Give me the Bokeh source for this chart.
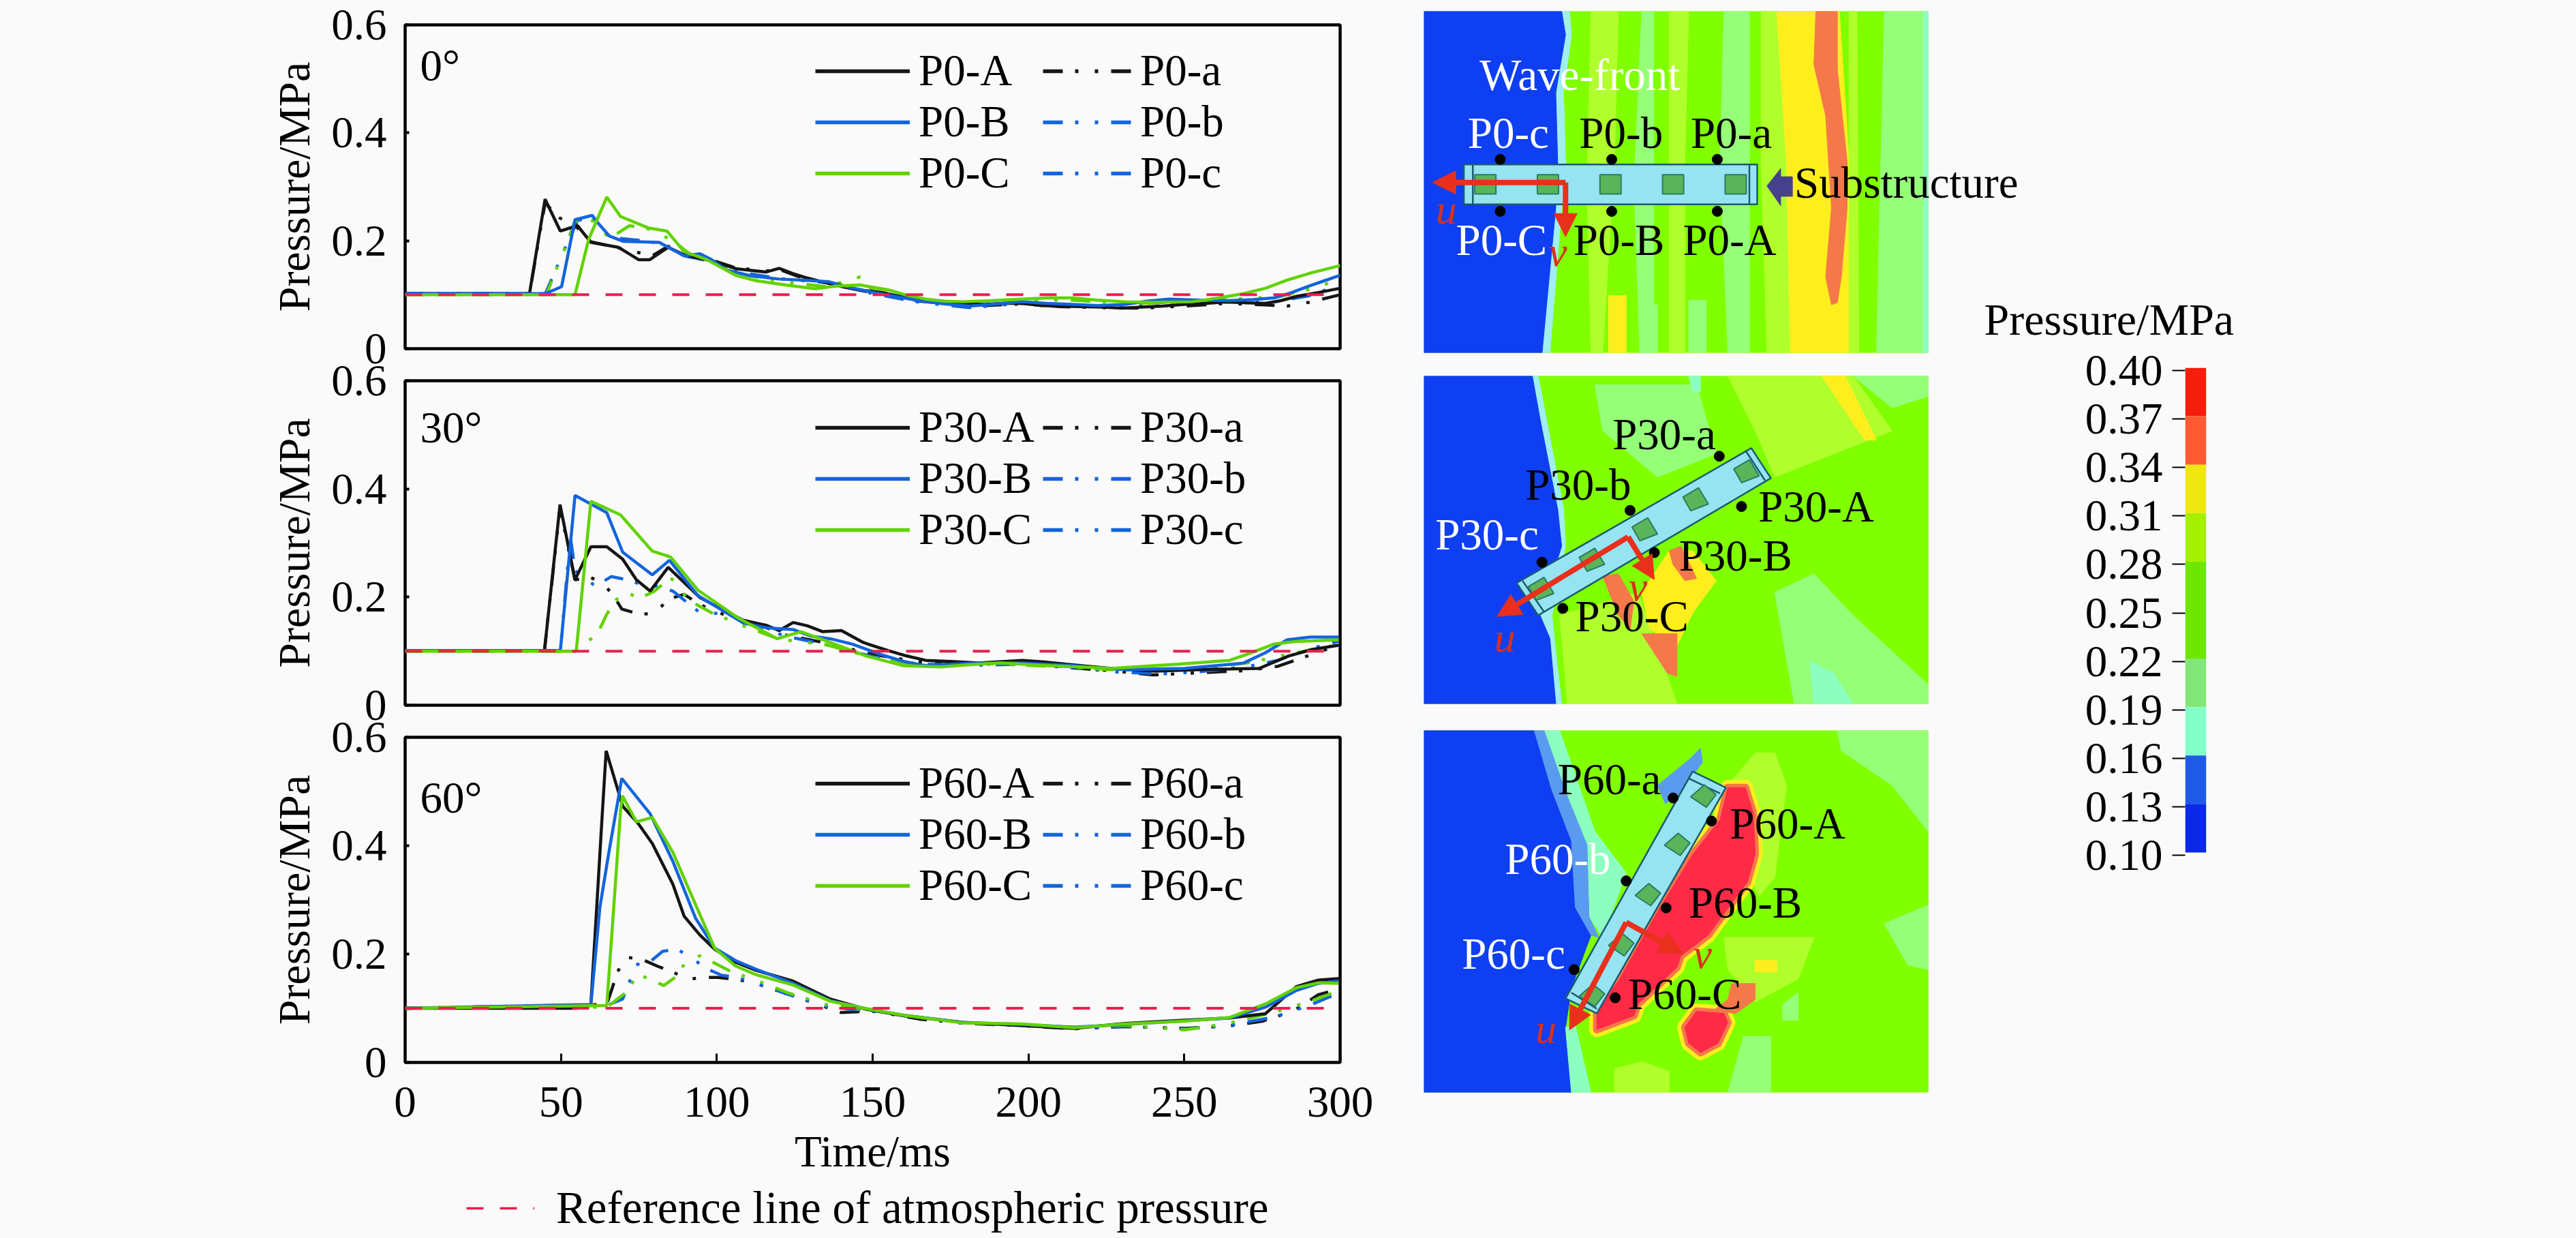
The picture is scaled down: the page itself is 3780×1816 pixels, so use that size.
from bokeh.plotting import figure
from bokeh.layouts import column, row
from bokeh.embed import file_html
from bokeh.resources import INLINE
from bokeh.core.properties import value
from bokeh.models import Legend, LegendItem, Label, FixedTicker, Arrow, NormalHead, Title

# ---------- measured pressure histories (time ms, pressure MPa) ----------
P0_A = [(0,.102),(39.9,.102),(44.9,.277),(49.8,.218),(55.3,.228),(59.6,.197),(68.4,.188),(74.9,.165),(78.5,.165),(84.4,.188),(89.5,.174),(98.2,.163),(106.3,.148),(115.7,.142),(120,.149),(125,.138),(129,.131),(135,.122),(141,.114),(147,.108),(153,.104),(158,.098),(162.5,.092),(168,.088),(174,.084),(180,.083),(186,.082),(192,.084),(198,.084),(204,.080),(210,.079),(217,.078),(224,.077),(230,.075),(236,.077),(243,.079),(250,.082),(257,.084),(264,.087),(270,.085),(276,.084),(281,.089),(286,.097),(293,.104),(300,.112)]
P0_B = [(0,.102),(45,.102),(50.2,.115),(54.5,.239),(60,.247),(62,.232),(65.5,.209),(69.9,.199),(81.5,.197),(89.5,.172),(94.6,.176),(98.3,.165),(103,.146),(111,.135),(120,.129),(128,.127),(136,.124),(143,.113),(150.6,.104),(158,.096),(165,.089),(173,.083),(181,.079),(190,.083),(198,.087),(206,.084),(214,.082),(222,.080),(231,.082),(238,.088),(245,.092),(255,.090),(264,.089),(272,.091),(278.7,.094),(284,.103),(290,.116),(295,.126),(300,.136)]
P0_C = [(0,.100),(54.5,.100),(58.9,.203),(64.7,.281),(69.1,.245),(77.9,.224),(84,.218),(89.5,.180),(96.8,.165),(106,.136),(112.6,.126),(122,.118),(131.6,.111),(138,.116),(146,.118),(155,.109),(161,.099),(167,.092),(173,.088),(179,.087),(188,.089),(198,.092),(206,.094),(214,.094),(222,.090),(231,.087),(240,.086),(252.6,.087),(261,.094),(269,.102),(276,.112),(283,.127),(291,.141),(300,.154)]
P0_a = [(0,.102),(39.9,.102),(44.9,.270),(49.4,.243),(55.3,.224),(59.6,.198),(68.4,.187),(79.3,.172),(84.4,.190),(89.5,.172),(98,.165),(106,.150),(116,.144),(120,.147),(126,.134),(135,.121),(147,.107),(155,.099),(165,.088),(175,.083),(186,.080),(198,.083),(210,.078),(224,.076),(236,.075),(250,.079),(264,.084),(276,.081),(283,.079),(290,.086),(300,.100)]
P0_b = [(0,.102),(45,.102),(51.3,.186),(55.3,.237),(59.6,.245),(65.5,.206),(75,.201),(82.2,.195),(89.5,.172),(98,.162),(106,.143),(120,.130),(136,.122),(150,.102),(165,.086),(181,.076),(198,.084),(214,.080),(231,.078),(245,.087),(264,.086),(278,.086),(290,.098),(300,.118)]
P0_c = [(0,.100),(45.3,.100),(49,.155),(51.3,.186),(54.5,.237),(61,.237),(65.5,.204),(72,.228),(78,.222),(86,.200),(92,.172),(100,.160),(108,.138),(120,.125),(135,.115),(146,.133),(150,.108),(165,.091),(180,.085),(198,.090),(214,.090),(231,.084),(250,.085),(266,.092),(280,.096),(290,.110),(300,.128)]

P30_A = [(0,.101),(44.7,.101),(49.7,.371),(54.5,.232),(59.6,.293),(64.7,.293),(69.8,.270),(74.2,.232),(78.6,.211),(84.4,.255),(94.6,.199),(108.5,.157),(115.8,.148),(120,.138),(124.5,.153),(129,.147),(134,.136),(140,.138),(147,.116),(155,.101),(161,.091),(167,.083),(175,.081),(184,.078),(198,.083),(205,.080),(212,.076),(226.5,.068),(240.7,.063),(255,.066),(265,.067),(274,.068),(283.4,.091),(291,.103),(299.5,.111)]
P30_B = [(0,.101),(49.8,.101),(54.5,.388),(64.7,.356),(69.8,.283),(79.3,.241),(84.8,.268),(93.9,.203),(108.5,.152),(116,.143),(124.5,.140),(130,.128),(136.4,.123),(143.5,.113),(153,.093),(160,.081),(167,.073),(176,.076),(184,.078),(198,.078),(214.6,.073),(231,.066),(250,.068),(269,.078),(276,.097),(283,.121),(290.5,.126),(299.5,.126)]
P30_C = [(0,.100),(54.9,.100),(59.6,.377),(69.1,.352),(79.3,.285),(85.2,.274),(93.9,.213),(107,.161),(119.4,.123),(127,.136),(136.4,.116),(148,.091),(160,.073),(172,.071),(181,.075),(191,.078),(207.5,.073),(226.5,.068),(248,.076),(264.5,.083),(271,.096),(278.7,.113),(286,.118),(299.5,.121)]
P30_a = [(0,.101),(44.7,.101),(49.7,.365),(52,.300),(54.5,.232),(59.6,.236),(63.3,.226),(66.6,.205),(69.5,.178),(74.9,.169),(80,.169),(84.4,.196),(89.5,.205),(94.6,.186),(103.4,.165),(112,.152),(122,.130),(135,.115),(150,.094),(165,.080),(184,.076),(198,.077),(212,.070),(226,.064),(240,.056),(255,.060),(270,.064),(280,.072),(290,.092),(299.5,.111)]
P30_b = [(0,.101),(49.8,.101),(53,.312),(54.5,.249),(61.1,.220),(63.3,.228),(66.2,.238),(71.3,.232),(76.4,.222),(80.8,.220),(85.9,.211),(94.6,.171),(103.4,.169),(112,.148),(122,.128),(135,.112),(150,.090),(165,.076),(184,.074),(198,.076),(212,.072),(226,.062),(243,.058),(255,.062),(270,.071),(280,.083),(290,.104),(299.5,.118)]
P30_c = [(0,.100),(54.9,.100),(61.8,.133),(64.4,.165),(66.9,.190),(70.6,.211),(75,.197),(80,.211),(85.2,.236),(91,.194),(98.3,.171),(108,.148),(120,.122),(135,.112),(150,.088),(165,.074),(184,.078),(198,.074),(212,.071),(226,.066),(243,.064),(255,.068),(270,.078),(280,.090),(290,.102),(299.5,.112)]

P60_A = [(0,.100),(55,.100),(59.6,.107),(63.3,.463),(64.5,.575),(69.8,.473),(74.9,.440),(79.3,.404),(85.9,.329),(89.5,.270),(94.6,.235),(99.3,.209),(106,.185),(112.6,.170),(124.5,.150),(136.4,.117),(148,.098),(160,.086),(179,.074),(198,.068),(214.6,.063),(231,.072),(250,.078),(264.5,.082),(276,.090),(281,.115),(286,.140),(293,.152),(300,.155)]
P60_B = [(0,.100),(59.6,.107),(62.5,.287),(65.5,.392),(69.5,.524),(78.6,.459),(85.9,.371),(93.2,.266),(99.3,.211),(106,.188),(112.6,.172),(124.5,.146),(136.4,.114),(148,.099),(160,.087),(179,.074),(198,.070),(214.6,.065),(231,.070),(250,.077),(264.5,.082),(276,.102),(286,.133),(293,.146),(299.5,.150)]
P60_C = [(0,.100),(64.7,.105),(69.1,.463),(69.7,.492),(74.2,.444),(79.3,.452),(85.9,.388),(93.2,.291),(99.3,.211),(106,.178),(112.6,.162),(124.5,.143),(136.4,.113),(148,.099),(160,.087),(179,.073),(198,.071),(214.6,.064),(231,.071),(250,.076),(264.5,.083),(276,.108),(286,.138),(293,.147),(299.5,.146)]
P60_a = [(0,.100),(64.7,.107),(66.6,.140),(68,.165),(70.6,.194),(75.7,.191),(80.8,.178),(85.5,.168),(90.6,.153),(95.4,.157),(100.4,.157),(110,.150),(120,.132),(130,.112),(140,.092),(150,.095),(165,.080),(180,.072),(198,.068),(214,.062),(231,.066),(250,.063),(264,.067),(275,.076),(285,.095),(293,.125),(299.5,.135)]
P60_b = [(0,.100),(64.7,.105),(69.8,.117),(72,.149),(73.8,.180),(78.6,.186),(82.6,.205),(87.3,.209),(92.4,.191),(96.4,.174),(101.5,.161),(106.3,.157),(112,.147),(121.6,.128),(135,.103),(150,.094),(165,.083),(180,.072),(198,.070),(214,.062),(231,.067),(250,.062),(264,.068),(279,.084),(290,.105),(299.5,.128)]
P60_c = [(0,.100),(64.7,.102),(72,.134),(74.2,.165),(77.8,.155),(83,.142),(86.6,.157),(90.2,.186),(94.6,.197),(99.7,.182),(104.8,.167),(112,.153),(123,.128),(135,.107),(150,.096),(165,.083),(180,.073),(198,.069),(214,.064),(231,.069),(250,.060),(264,.072),(279,.093),(290,.112),(299.5,.132)]

ATM_REFERENCE = 0.1
X_TICKS = [0, 50, 100, 150, 200, 250, 300]
Y_TICKS = [0, 0.2, 0.4, 0.6]
Y_TICK_TEXT = {0: "0", 0.2: "0.2", 0.4: "0.4", 0.6: "0.6"}

COLORBAR_LEVELS = [0.40, 0.37, 0.34, 0.31, 0.28, 0.25, 0.22, 0.19, 0.16, 0.13, 0.10]
COLORBAR_COLORS = ["#f41e0c", "#ff5a32", "#f0e614", "#a4f000", "#6ee600", "#6ee600", "#82e678", "#82ffc8", "#1e5ae6", "#0a28e6"]

FONT = "Liberation Serif"
BG = "#fafafa"
BLACK, BLUE, GREEN, REDL = "#151515", "#1464dc", "#62d200", "#e8204e"
DASHDOT = "29 18 5 24 5 19"
FS = "65px"
NAN = float("nan")

DEEP, CYAN, MID, LIME, YG, LG, AQUA, YEL, ORG, RED = ("#0f3ff2", "#a0eef0", "#5a9bef", "#80ff00", "#b0ff2c", "#96ff78",
                                                      "#8cffc0", "#ffee1e", "#f4784a", "#ff2a46")

def style_line_fig(p, bottom):
    p.background_fill_color = BG
    p.border_fill_color = None
    p.outline_line_color = "black"
    p.outline_line_width = 4.5
    p.grid.visible = False
    p.yaxis.ticker = FixedTicker(ticks=Y_TICKS)
    p.yaxis.major_label_overrides = Y_TICK_TEXT
    p.yaxis.major_label_text_font = FONT
    p.yaxis.major_label_text_font_size = FS
    p.yaxis.major_label_text_color = "black"
    p.yaxis.major_label_standoff = 27
    p.yaxis.major_tick_in = 6
    p.yaxis.major_tick_out = 0
    p.yaxis.major_tick_line_width = 4
    p.yaxis.major_tick_line_color = "black"
    p.yaxis.minor_tick_line_color = None
    p.yaxis.axis_line_color = None
    p.yaxis.axis_label = "Pressure/MPa"
    p.yaxis.axis_label_text_font = FONT
    p.yaxis.axis_label_text_font_style = "normal"
    p.yaxis.axis_label_text_font_size = "66px"
    p.yaxis.axis_label_text_color = "black"
    p.yaxis.axis_label_standoff = 15
    if bottom:
        p.xaxis.ticker = FixedTicker(ticks=X_TICKS)
        p.xaxis.major_label_text_font = FONT
        p.xaxis.major_label_text_font_size = FS
        p.xaxis.major_label_text_color = "black"
        p.xaxis.major_label_standoff = 36
        p.xaxis.major_tick_in = 13
        p.xaxis.major_tick_out = 0
        p.xaxis.major_tick_line_width = 3
        p.xaxis.major_tick_line_color = "black"
        p.xaxis.minor_tick_line_color = None
        p.xaxis.axis_line_color = None
        p.xaxis.axis_label = "Time/ms"
        p.xaxis.axis_label_text_font = FONT
        p.xaxis.axis_label_text_font_style = "normal"
        p.xaxis.axis_label_text_font_size = FS
        p.xaxis.axis_label_text_color = "black"
        p.xaxis.axis_label_standoff = 12
    else:
        p.xaxis.visible = False


def line_panel(tag, angle, angle_y, series, top, frame, bot, leg_top, overlap=0, bottom=False):
    p = figure(width=2089, height=top + frame + bot, x_range=(0, 300), y_range=(0, 0.6),
               output_backend="svg", toolbar_location=None,
               min_border_left=594, min_border_right=123, min_border_top=top, min_border_bottom=bot,
               margin=(-overlap, 0, 0, 0))
    style_line_fig(p, bottom)
    A, B, C, a, b, c = series
    for data, col, dash in [(a, BLACK, DASHDOT), (b, BLUE, DASHDOT), (c, GREEN, DASHDOT),
                            (A, BLACK, "solid"), (B, BLUE, "solid"), (C, GREEN, "solid")]:
        t, v = zip(*data)
        p.line(list(t), list(v), line_color=col, line_dash=dash, line_width=4.5)
    p.line([0, 300], [ATM_REFERENCE, ATM_REFERENCE], line_color=REDL, line_dash="25 24", line_width=4)
    # legend keys are heavier than the curves; lower-case c is keyed blue in the source figure
    sw = {}
    for name, col, dash in [("A", BLACK, "solid"), ("B", BLUE, "solid"), ("C", GREEN, "solid"),
                            ("a", BLACK, DASHDOT), ("b", BLUE, DASHDOT), ("c", BLUE, DASHDOT)]:
        sw[name] = p.line([0, 300], [NAN, NAN], line_color=col, line_dash=dash, line_width=5.5)
    for names, lx, gw in [("ABC", 602, 139), ("abc", 936, 130)]:
        items = [LegendItem(label=f"{tag}-{n}", renderers=[sw[n]]) for n in names]
        p.add_layout(Legend(items=items, orientation="vertical", location=(lx, frame - leg_top - 225),
                            background_fill_alpha=0, border_line_color=None, padding=0, margin=0, spacing=-2,
                            glyph_width=gw, glyph_height=74, label_height=74, label_standoff=13,
                            label_text_font=FONT, label_text_font_size=FS, label_text_color="black",
                            label_text_baseline="middle"))
    p.add_layout(Label(x=4.8, y=angle_y, text=angle, text_font=FONT, text_font_size=FS, text_color="black",
                       text_baseline="middle", text_align="left"))
    return p


p1 = line_panel("P0", "0°", 0.525, (P0_A, P0_B, P0_C, P0_a, P0_b, P0_c), 36, 475, 40, 30)
p2 = line_panel("P30", "30°", 0.514, (P30_A, P30_B, P30_C, P30_a, P30_b, P30_c), 40, 476, 40, 31, overlap=33)
p3 = line_panel("P60", "60°", 0.489, (P60_A, P60_B, P60_C, P60_a, P60_b, P60_c), 40, 477, 172, 30, overlap=33, bottom=True)

strip = figure(width=2089, height=80, x_range=(0, 1), y_range=(0, 1), output_backend="svg", toolbar_location=None,
               min_border=0)
strip.axis.visible = False
strip.grid.visible = False
strip.outline_line_color = None
strip.background_fill_color = BG
strip.border_fill_color = BG
ref_key = strip.line([0, 1], [NAN, NAN], line_color=REDL, line_dash="25 24", line_width=3.5)
strip.add_layout(Legend(items=[LegendItem(label="Reference line of atmospheric pressure", renderers=[ref_key])],
                        location=(90, 0), background_fill_alpha=0, border_line_color=None, padding=0, margin=0,
                        glyph_width=100, glyph_height=74, label_height=74, label_standoff=32,
                        label_text_font=FONT, label_text_font_size="67px", label_text_color="black"))

# ---------- contour maps: regions ----------
def heat_fig(y0, y1, top, frame, bot):
    p = figure(width=881, height=top + frame + bot, x_range=(103, 1638), y_range=(y1, y0),
               output_backend="svg", toolbar_location=None,
               min_border_left=0, min_border_right=0, min_border_top=top, min_border_bottom=bot)
    p.axis.visible = False
    p.grid.visible = False
    p.background_fill_color = BG
    p.border_fill_color = BG
    p.outline_line_color = None
    xs = [103, 1392, 1392, 103]
    ys = [y0, y0, y1, y1]
    p.patch(xs, ys, fill_color=LIME, line_color=LIME, line_width=1)
    return p

def region(p, pts, col, halo=None):
    xs, ys = zip(*pts)
    if halo:
        p.patch(list(xs), list(ys), fill_color=YEL, line_color=YEL, line_width=22, line_join="round")
        p.patch(list(xs), list(ys), fill_color=ORG, line_color=ORG, line_width=11, line_join="round")
    p.patch(list(xs), list(ys), fill_color=col, line_color=col, line_width=1)

def beam(p, outline, inner, squares, sq_offs):
    xs, ys = zip(*outline)
    p.patch(list(xs), list(ys), fill_color="#96e4f2", line_color="#1c5a70", line_width=2.5)
    for (a, b) in inner:
        p.line([a[0], b[0]], [a[1], b[1]], line_color="#1c5a70", line_width=2.5)
    for (cx, cy) in squares:
        p.patch([cx + o[0] for o in sq_offs], [cy + o[1] for o in sq_offs], fill_color="#5ab45a",
                line_color="#2c7a60", line_width=2)

def dots(p, pts):
    xs, ys = zip(*pts)
    p.scatter(list(xs), list(ys), size=15, color="black")

def words(p, items):
    for (x, y, s, col) in items:
        p.text([x], [y], text=[s], text_font=value(FONT), text_font_size=FS, text_color=col,
               text_align="left", text_baseline="middle")

def arrows(p, origin, ends, labels):
    for e in ends:
        p.add_layout(Arrow(end=NormalHead(size=34, fill_color="#e8301c", line_color="#e8301c"),
                           x_start=origin[0], y_start=origin[1], x_end=e[0], y_end=e[1],
                           line_color="#e8301c", line_width=8))
    for (x, y, s) in labels:
        p.text([x], [y], text=[s], text_font=value(FONT), text_font_size="62px", text_font_style="italic",
               text_color="#d8301c", text_align="center", text_baseline="middle")

# 0 degrees
h1 = heat_fig(48, 1528, 16, 501, 17)
for r, c in [
    ([(530,48),(600,48),(590,700),(560,1528),(530,1528),(520,800)], YG),
    ([(660,48),(690,48),(690,1528),(655,1528),(640,800)], LG),
    ([(730,48),(780,48),(770,700),(770,1528),(730,1528)], YG),
    ([(870,48),(935,48),(935,1528),(880,1528),(860,700)], LG),
    ([(965,48),(1005,48),(1030,700),(1040,1528),(980,1528),(965,700)], YG),
    ([(1005,48),(1105,48),(1165,48),(1190,700),(1190,1528),(1040,1528),(1030,700)], YEL),
    ([(1105,48),(1160,48),(1160,300),(1185,700),(1185,900),(1170,1200),(1160,1310),(1145,1320),(1130,1200),(1145,900),(1130,500),(1100,280)], ORG),
    ([(1190,48),(1210,48),(1215,1528),(1190,1528)], YG),
    ([(1280,48),(1392,48),(1392,1528),(1260,1528)], LG),
    ([(1380,48),(1392,48),(1392,1528),(1380,1528)], AQUA),
    ([(575,1280),(620,1280),(620,1528),(575,1528)], YEL),
    ([(655,1320),(700,1320),(700,1528),(655,1528)], LG),
    ([(780,1300),(825,1300),(825,1528),(780,1528)], LG),
    ([(455,48),(475,48),(480,150),(460,400),(465,700),(455,900),(425,1528),(405,1528)], CYAN),
    ([(103,48),(455,48),(465,150),(440,400),(445,700),(440,900),(405,1528),(103,1528)], DEEP),
]:
    region(h1, r, c)
beam(h1, [(205,712),(955,712),(955,885),(205,885)], [((228,712),(228,885)), ((935,712),(935,885))],
     [(260,798),(420,798),(580,798),(740,798),(900,798)], [(-27,-42),(27,-42),(27,42),(-27,42)])
dots(h1, [(298,690),(583,690),(853,690),(298,915),(583,915),(853,915)])
region(h1, [(980,805),(1015,730),(1015,765),(1045,765),(1045,850),(1015,850),(1015,890)], "#46418c")
arrows(h1, (465,790), [(125,790),(465,1025)], [(160,905,"u"),(445,1090,"v")])
words(h1, [(245,325,"Wave-front","white"),(215,575,"P0-c","white"),(500,575,"P0-b","black"),(785,575,"P0-a","black"),
           (185,1040,"P0-C","white"),(485,1040,"P0-B","black"),(765,1040,"P0-A","black"),(1050,790,"Substructure","black")])

# 30 degrees
h2 = heat_fig(62, 1484, 17, 481, 19)
for r, c in [
    ([(540,100),(800,100),(850,400),(700,500),(560,300)], LG),
    ([(780,62),(810,62),(810,130),(790,130)], AQUA),
    ([(880,62),(1200,62),(1300,300),(1000,500),(950,300)], YG),
    ([(1120,62),(1180,62),(1260,340),(1230,340)], YEL),
    ([(1200,62),(1392,62),(1392,150),(1300,200)], LG),
    ([(1000,1000),(1100,920),(1200,1100),(1392,1400),(1392,1484),(1050,1484)], LG),
    ([(1090,1300),(1150,1350),(1200,1484),(1100,1484)], AQUA),
    ([(450,1100),(650,1000),(750,1484),(470,1484)], YG),
    ([(730,820),(790,820),(850,950),(790,1090),(750,1230),(680,1160),(660,1000)], YEL),
    ([(730,820),(760,800),(800,940),(770,950),(740,880)], ORG),
    ([(560,930),(600,920),(640,1040),(630,1160),(600,1100)], ORG),
    ([(660,1180),(750,1180),(750,1365),(725,1350)], ORG),
    ([(380,62),(395,62),(460,640),(465,800),(430,1100),(455,1484),(440,1484),(400,1100),(455,800),(445,640)], CYAN),
    ([(103,62),(380,62),(400,250),(445,640),(455,800),(400,1100),(425,1200),(440,1484),(103,1484)], DEEP),
]:
    region(h2, r, c)
beam(h2, [(940,375),(990,505),(395,1100),(340,960)], [((925,385),(975,515)), ((355,950),(410,1085))],
     [(925,478),(795,600),(665,730),(530,862),(400,988)], [(10,-53),(35,17),(-10,47),(-30,-13)])
dots(h2, [(858,410),(630,645),(405,870),(915,628),(692,828),(458,1070)])
arrows(h2, (625,760), [(290,1105),(692,945)], [(310,1195,"u"),(650,975,"v")])
words(h2, [(585,315,"P30-a","black"),(362,535,"P30-b","black"),(132,750,"P30-c","white"),
           (958,628,"P30-A","black"),(755,840,"P30-B","black"),(490,1105,"P30-C","black")])

# 60 degrees
h3 = heat_fig(62, 1633, 20, 531, 10)
for r, c in [
    ([(1160,62),(1392,62),(1392,500),(1300,300),(1170,150)], LG),
    ([(880,300),(950,160),(1000,160),(1030,300),(1000,700),(960,780),(880,500)], YG),
    ([(870,960),(1100,960),(1060,1140),(950,1240),(880,1100)], YG),
    ([(1280,900),(1392,820),(1392,1100),(1340,1080)], LG),
    ([(950,1060),(1005,1060),(1005,1110),(950,1110)], YEL),
    ([(590,1530),(660,1500),(730,1540),(730,1633),(590,1633)], YG),
    ([(920,1390),(990,1390),(990,1633),(880,1633)], LG),
    ([(1020,1250),(1060,1200),(1060,1320),(1020,1320)], LG),
    ([(410,62),(450,62),(540,500),(620,680),(560,960),(525,870),(520,560),(470,350)], AQUA),
    ([(700,300),(780,190),(810,140),(815,200),(760,330),(720,380)], MID),
    ([(103,62),(385,62),(430,320),(480,540),(490,830),(530,950),(480,1180),(465,1350),(480,1633),(103,1633)], DEEP),
    ([(385,62),(410,62),(470,350),(520,560),(525,870),(550,960),(530,950),(490,830),(480,540),(430,320)], MID),
    ([(465,1350),(490,1340),(530,1633),(480,1633)], AQUA),
]:
    region(h3, r, c)
region(h3, [(770,1350),(800,1280),(870,1290),(880,1330),(855,1420),(810,1460),(780,1420)], RED, halo=True)
region(h3, [(890,1160),(950,1160),(950,1230),(900,1290),(840,1280),(880,1230)], ORG)
region(h3, [(880,310),(925,310),(945,420),(950,600),(930,720),(860,880),(830,950),(760,1040),(750,1090),(650,1250),(640,1300),(545,1360),(545,1270),(600,1150),(650,1000),(700,850),(790,600),(860,450)], RED, halo=True)
beam(h3, [(790,240),(875,310),(545,1290),(465,1225)], [((780,270),(860,335)), ((480,1200),(545,1270))],
     [(810,345),(743,555),(668,773),(600,990),(525,1210)], [(10,-47),(40,-5),(15,50),(-25,5)])
dots(h3, [(740,355),(620,715),(487,1100),(838,455),(722,832),(592,1222)])
arrows(h3, (620,895), [(475,1362),(765,1030)], [(415,1355,"u"),(815,1030,"v")])
words(h3, [(445,275,"P60-a","black"),(310,620,"P60-b","white"),(200,1030,"P60-c","white"),
           (885,465,"P60-A","black"),(780,810,"P60-B","black"),(625,1205,"P60-C","black")])

# ---------- colour scale ----------
BAR_SHIFT = 0.0017  # the coloured bar sits slightly above its tick marks in the source
cb = figure(width=412, height=1304, x_range=(0, 1), y_range=(0.10, 0.40 + BAR_SHIFT), output_backend="svg", toolbar_location=None,
            min_border_left=301, min_border_right=80, min_border_top=539, min_border_bottom=50,
            margin=(0, 0, 0, -65))
cb.xaxis.visible = False
cb.grid.visible = False
cb.outline_line_color = None
cb.background_fill_color = None
cb.border_fill_color = None
for i, col in enumerate(COLORBAR_COLORS):
    cb.quad(left=0, right=1, top=COLORBAR_LEVELS[i] + BAR_SHIFT, bottom=COLORBAR_LEVELS[i + 1] + BAR_SHIFT,
            fill_color=col, line_color=None)
cb.yaxis.ticker = FixedTicker(ticks=COLORBAR_LEVELS)
cb.yaxis.major_label_overrides = {v: f"{v:.2f}" for v in COLORBAR_LEVELS}
cb.yaxis.major_label_text_font = FONT
cb.yaxis.major_label_text_font_size = FS
cb.yaxis.major_label_text_color = "black"
cb.yaxis.major_label_standoff = 14
cb.yaxis.major_tick_out = 19
cb.yaxis.major_tick_in = 0
cb.yaxis.major_tick_line_width = 2
cb.yaxis.major_tick_line_color = "black"
cb.yaxis.minor_tick_line_color = None
cb.yaxis.axis_line_color = None
cb.add_layout(Title(text="Pressure/MPa", align="left", offset=-295, standoff=69, text_font=FONT, text_font_size="66px",
                    text_font_style="normal", text_color="black"), "above")

layout = row(column(p1, p2, p3, strip), column(h1, h2, h3), cb, spacing=0)
html = file_html(layout, INLINE)
html = html.replace("<head>", "<head><style>html,body{background:#fafafa}</style>", 1)
open("out.html", "w").write(html)
